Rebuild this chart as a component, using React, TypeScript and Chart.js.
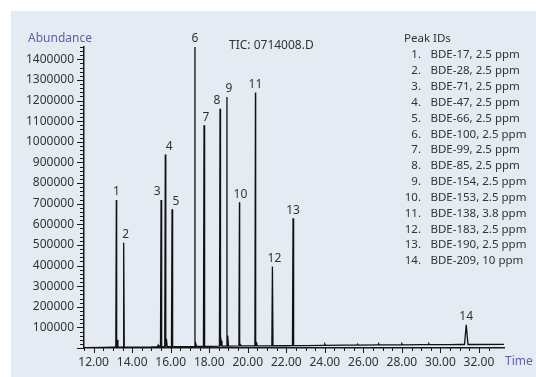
import React, { useEffect, useRef } from "react";
import { Chart, registerables } from "chart.js";

Chart.register(...registerables);

// ---------- data ----------
const peakNumbers = ["1", "2", "3", "4", "5", "6", "7", "8", "9", "10", "11", "12", "13", "14"];
const peakTimes = [13.18, 13.56, 15.5, 15.72, 16.07, 17.26, 17.73, 18.56, 18.92, 19.57, 20.4, 21.28, 22.35, 31.34];
const peakHeights = [718000, 511000, 718000, 939000, 673000, 1460000, 1081000, 1161000, 1218000, 707000, 1239000, 395000, 629000, 113000];
const peakFoot = [4000, 4000, 6000, 6000, 6000, 8000, 8000, 9000, 9000, 10000, 10000, 11000, 12000, 17000];
const peakHalfWidth = [0.03, 0.03, 0.03, 0.03, 0.03, 0.03, 0.03, 0.03, 0.03, 0.03, 0.03, 0.03, 0.03, 0.09];

const bumpTimes = [13.22, 15.35, 15.78, 17.3, 18.62, 18.96, 19.62, 20.45, 24.0, 25.7, 26.8, 28.0, 29.4];
const bumpHeights = [40000, 14000, 45000, 22000, 35000, 60000, 16000, 30000, 19000, 19000, 20000, 21000, 21000];
const bumpFoot = [4000, 6000, 6000, 8000, 9000, 9000, 10000, 10000, 13000, 14000, 15000, 15000, 16000];

const baselineTimes = [11.5, 12.5, 13.0, 14.0, 15.0, 16.5, 17.0, 18.0, 19.0, 20.0, 21.0, 22.0, 23.0, 25.0, 27.0, 29.0, 30.5, 31.0, 31.8, 33.3];
const baselineValues = [2000, 3000, 4000, 4000, 5000, 6000, 7000, 8000, 9000, 10000, 10500, 11000, 12000, 14000, 15000, 16000, 16500, 17000, 17000, 18000];

const peakIds = [
  "BDE-17, 2.5 ppm",
  "BDE-28, 2.5 ppm",
  "BDE-71, 2.5 ppm",
  "BDE-47, 2.5 ppm",
  "BDE-66, 2.5 ppm",
  "BDE-100, 2.5 ppm",
  "BDE-99, 2.5 ppm",
  "BDE-85, 2.5 ppm",
  "BDE-154, 2.5 ppm",
  "BDE-153, 2.5 ppm",
  "BDE-138, 3.8 ppm",
  "BDE-183, 2.5 ppm",
  "BDE-190, 2.5 ppm",
  "BDE-209, 10 ppm",
];

const xMin = 11.5;
const xMax = 33.3;
const yMin = 0;
const yMax = 1460000;
const xMinorStep = 0.5;
const xMajorStep = 2;
const yMinorStep = 20000;
const yMajorStep = 100000;

const titleText = "TIC: 0714008.D";
const legendTitle = "Peak IDs";
const yAxisTitle = "Abundance";
const xAxisTitle = "Time";

// ---------- style ----------
const FONT = "'Noto Sans', 'Open Sans', sans-serif";
const PANEL = "#e4ebf2";
const TEXT = "#333333";
const AXIS_TITLE = "#5b5fa8";
const LINE = "#111111";
const labelShift = [0, 2, -4, 4, 4, 0, 2, -3, 2, 1, 0, 2, 0, 0];

function buildTrace() {
  const pts: { x: number; y: number }[] = [];
  baselineTimes.forEach((t, i) => pts.push({ x: t, y: baselineValues[i] }));
  peakTimes.forEach((t, i) => {
    const w = peakHalfWidth[i];
    pts.push({ x: t - w, y: peakFoot[i] });
    pts.push({ x: t, y: peakHeights[i] });
    pts.push({ x: t + w, y: peakFoot[i] });
  });
  bumpTimes.forEach((t, i) => {
    pts.push({ x: t - 0.04, y: bumpFoot[i] });
    pts.push({ x: t, y: bumpHeights[i] });
    pts.push({ x: t + 0.04, y: bumpFoot[i] });
  });
  pts.sort((a, b) => a.x - b.x);
  return pts;
}

const isMultiple = (v: number, step: number) => Math.abs(v / step - Math.round(v / step)) < 1e-6;

const decor = {
  id: "decor",
  beforeDraw(chart: any) {
    const { ctx, width, height } = chart;
    ctx.save();
    ctx.fillStyle = "#ffffff";
    ctx.fillRect(0, 0, width, height);
    ctx.fillStyle = PANEL;
    ctx.fillRect(11, 11, width - 11, height - 11);
    ctx.restore();
  },
  afterDraw(chart: any) {
    const { ctx, chartArea } = chart;
    const xs = chart.scales.x;
    const ys = chart.scales.y;
    ctx.save();
    // tick marks
    ctx.strokeStyle = "#1a1a1a";
    ctx.lineWidth = 1;
    ctx.beginPath();
    xs.ticks.forEach((t: any) => {
      if (!isMultiple(t.value, xMinorStep)) return;
      const px = Math.round(xs.getPixelForValue(t.value)) + 0.5;
      const len = isMultiple(t.value, xMajorStep) ? 5 : 3;
      ctx.moveTo(px, chartArea.bottom);
      ctx.lineTo(px, chartArea.bottom + len);
    });
    ys.ticks.forEach((t: any) => {
      if (!isMultiple(t.value, yMinorStep)) return;
      const py = Math.round(ys.getPixelForValue(t.value)) + 0.5;
      const len = isMultiple(t.value, yMajorStep) ? 7 : 4;
      ctx.moveTo(chartArea.left, py);
      ctx.lineTo(chartArea.left - len, py);
    });
    ctx.stroke();

    // axis titles
    ctx.font = `12px ${FONT}`;
    ctx.textBaseline = "middle";
    ctx.textAlign = "left";
    ctx.fillStyle = AXIS_TITLE;
    ctx.fillText(yAxisTitle, 28, 39);
    ctx.fillText(xAxisTitle, 505, 362);

    // peak labels
    ctx.fillStyle = TEXT;
    ctx.textAlign = "center";
    peakTimes.forEach((t, i) => {
      const px = xs.getPixelForValue(t) + labelShift[i];
      const py = ys.getPixelForValue(peakHeights[i]) - 8;
      ctx.fillText(peakNumbers[i], px, py);
    });

    // title
    ctx.textAlign = "left";
    ctx.fillText(titleText, 229, 46);

    // legend
    ctx.font = `11.5px ${FONT}`;
    ctx.fillText(legendTitle, 404, 39);
    peakIds.forEach((s, i) => {
      const y = 55 + i * 15.85;
      ctx.textAlign = "right";
      ctx.fillText(peakNumbers[i] + ".", 421, y);
      ctx.textAlign = "left";
      ctx.fillText(s, 430.5, y);
    });
    ctx.restore();
  },
};

export default function App() {
  const ref = useRef<HTMLCanvasElement | null>(null);
  useEffect(() => {
    if (!ref.current) return;
    Chart.defaults.font.family = FONT;
    const chart = new Chart(ref.current, {
      type: "line",
      data: {
        datasets: [
          {
            data: buildTrace(),
            borderColor: LINE,
            borderWidth: 1.3,
            pointRadius: 0,
            tension: 0,
            fill: false,
          },
        ],
      },
      options: {
        animation: false,
        responsive: false,
        devicePixelRatio: 1,
        layout: { padding: { top: 47, right: 32, left: 0, bottom: 0 } },
        plugins: { legend: { display: false }, tooltip: { enabled: false } },
        scales: {
          x: {
            type: "linear",
            min: xMin,
            max: xMax,
            afterFit: (s: any) => {
              s.height = 29;
            },
            border: { display: true, color: "#1a1a1a", width: 1.5 },
            grid: { drawOnChartArea: false, drawTicks: true, tickLength: 4, tickColor: "rgba(0,0,0,0)" },
            ticks: {
              stepSize: xMinorStep,
              autoSkip: false,
              maxRotation: 0,
              padding: 3,
              color: TEXT,
              font: { size: 12, family: FONT },
              callback: (v: any) => (isMultiple(Number(v), xMajorStep) ? Number(v).toFixed(2) : ""),
            },
          },
          y: {
            type: "linear",
            min: yMin,
            max: yMax,
            afterFit: (s: any) => {
              s.width = 84;
            },
            border: { display: true, color: "#1a1a1a", width: 1.5 },
            grid: { drawOnChartArea: false, drawTicks: true, tickLength: 7, tickColor: "rgba(0,0,0,0)" },
            ticks: {
              stepSize: yMinorStep,
              autoSkip: false,
              padding: 3,
              color: TEXT,
              font: { size: 12, family: FONT },
              callback: (v: any) => {
                const n = Number(v);
                return n > 0 && isMultiple(n, yMajorStep) ? String(Math.round(n)) : "";
              },
            },
          },
        },
      },
      plugins: [decor],
    });
    return () => chart.destroy();
  }, []);
  return (
    <div style={{ position: "fixed", left: 0, top: 0, width: 536, height: 377 }}>
      <canvas ref={ref} width={536} height={377} style={{ display: "block" }} />
    </div>
  );
}
